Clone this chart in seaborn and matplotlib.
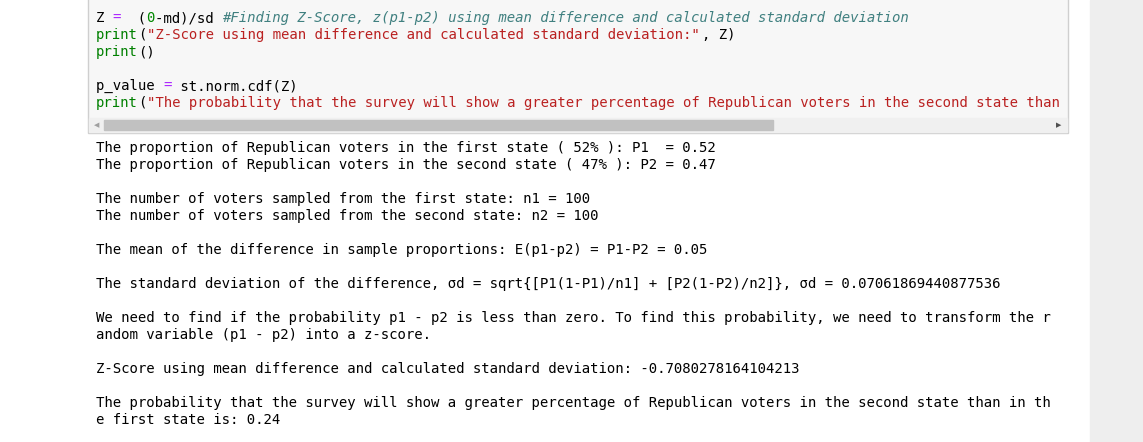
import matplotlib
matplotlib.use("Agg")
import matplotlib.pyplot as plt
import seaborn as sns
from matplotlib.patches import Rectangle

sns.set_style("white")

# code cell lines: list of (text, colour, italic) tokens
code_lines = [
    [("Z ", "#000000", False), ("=", "#aa22ff", False), ("  (", "#000000", False),
     ("0", "#008800", False), ("-md)/sd ", "#000000", False),
     ("#Finding Z-Score, z(p1-p2) using mean difference and calculated standard deviation", "#408080", True)],
    [("print", "#008000", False), ("(", "#000000", False),
     ('"Z-Score using mean difference and calculated standard deviation:"', "#ba2121", False),
     (", Z)", "#000000", False)],
    [("print", "#008000", False), ("()", "#000000", False)],
    [],
    [("p_value ", "#000000", False), ("=", "#aa22ff", False), (" st.norm.cdf(Z)", "#000000", False)],
    [("print", "#008000", False), ("(", "#000000", False),
     ('"The probability that the survey will show a greater percentage of Republican voters in the second state than', "#ba2121", False)],
]
code_y = [18, 35, 52, 69, 86, 103]

output_lines = [
    "The proportion of Republican voters in the first state ( 52% ): P1  = 0.52",
    "The proportion of Republican voters in the second state ( 47% ): P2 = 0.47",
    "",
    "The number of voters sampled from the first state: n1 = 100",
    "The number of voters sampled from the second state: n2 = 100",
    "",
    "The mean of the difference in sample proportions: E(p1-p2) = P1-P2 = 0.05",
    "",
    "The standard deviation of the difference, σd = sqrt{[P1(1-P1)/n1] + [P2(1-P2)/n2]}, σd = 0.07061869440877536",
    "",
    "We need to find if the probability p1 - p2 is less than zero. To find this probability, we need to transform the r",
    "andom variable (p1 - p2) into a z-score.",
    "",
    "Z-Score using mean difference and calculated standard deviation: -0.7080278164104213",
    "",
    "The probability that the survey will show a greater percentage of Republican voters in the second state than in th",
    "e first state is: 0.24",
]
out_y0 = 148
line_h = 17

W, H = 1143, 442
fig = plt.figure(figsize=(W / 100, H / 100), dpi=100)
ax = fig.add_axes([0, 0, 1, 1])
ax.set_xlim(0, W)
ax.set_ylim(H, 0)
ax.axis("off")

ax.add_patch(Rectangle((1090, 0), 53, H, color="#eeeeee"))
box = Rectangle((88, -2), 980, 135, facecolor="#f7f7f7", edgecolor="#cfcfcf", lw=1)
ax.add_patch(box)
# horizontal scrollbar
ax.add_patch(Rectangle((89, 118), 978, 14, color="#f0f0f0"))
ax.add_patch(Rectangle((104, 120), 669, 10, color="#c1c1c1"))
ax.text(97, 125, "◀", fontsize=5, color="#a0a0a0", ha="center", va="center")
ax.text(1059, 125, "▶", fontsize=5, color="#505050", ha="center", va="center")

fs = 10.07
cw = 0.602 * fs * 100 / 72
font = dict(family="DejaVu Sans Mono", fontsize=fs, va="center")
for toks, y in zip(code_lines, code_y):
    col = 0
    for txt, c, it in toks:
        t = ax.text(96 + col * cw, y, txt, color=c, style="italic" if it else "normal", **font)
        t.set_clip_path(Rectangle((88, 0), 975, 117, transform=ax.transData))
        col += len(txt)

for i, line in enumerate(output_lines):
    ax.text(96, out_y0 + i * line_h, line, color="#000000", **font)

fig.savefig("out.png", dpi=100)
